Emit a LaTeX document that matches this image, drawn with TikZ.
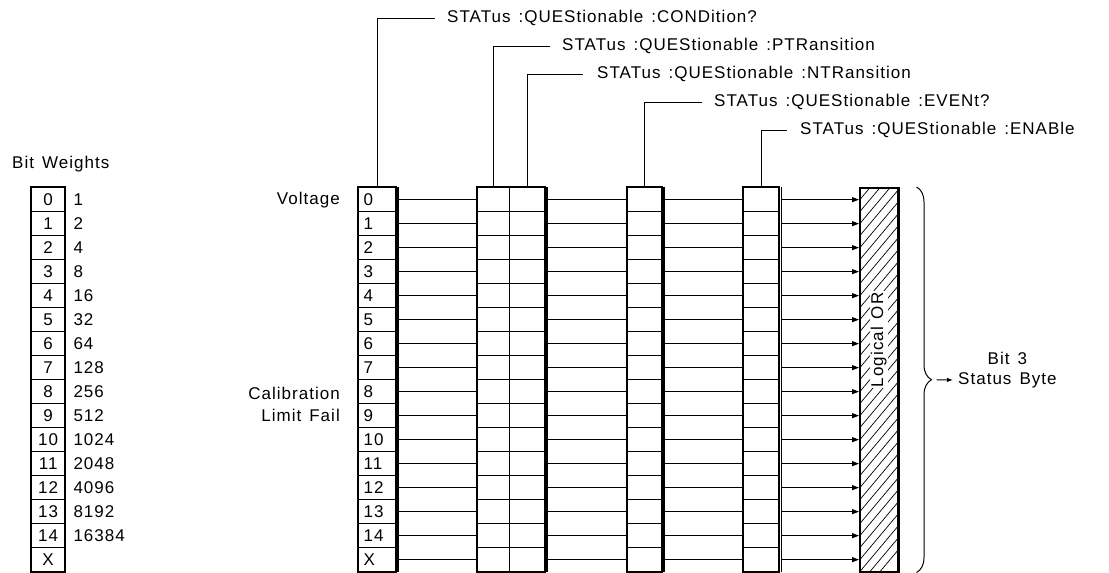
\documentclass[tikz,border=0pt]{standalone}
\usepackage{fontspec}
\setmainfont{Liberation Sans}[LetterSpace=6,WordSpace=1.4]
\usepackage{tikz}
\usetikzlibrary{positioning,arrows.meta,calc,decorations.pathreplacing}
\tikzset{
  cell/.style={draw, line width=1.3pt, minimum height=24pt, inner sep=0pt,
               anchor=north west, font=\fontsize{17}{18}\selectfont},
  wcell/.style={cell, minimum width=33pt},
  ccell/.style={cell, minimum width=37pt, text width=27pt, inner xsep=5pt, align=left},
  pcell/.style={cell, minimum width=32pt},
  ncell/.style={cell, minimum width=35pt},
  ecell/.style={cell, minimum width=34pt},
  encell/.style={cell, minimum width=35pt},
  lbl/.style={inner sep=0pt, font=\fontsize{17}{22}\selectfont},
  link/.style={line width=1pt},
  feed/.style={link, -{Triangle[length=7pt,width=5pt]}},
  lead/.style={line width=0.8pt},
  frame/.style={line width=1.8pt},
  rim/.style={line width=3pt},
  base/.style={line width=2.4pt},
  dblrim/.style={double, double distance=1.2pt, line width=0.9pt},
  orbox/.style={draw, line width=1.5pt, minimum width=38pt, minimum height=384pt,
                anchor=north west, inner sep=0pt,
                path picture={
                  \foreach \k in {0,...,34}
                    \draw[line width=0.7pt] ([yshift=-\k*12pt]path picture bounding box.north west) -- ++(50:60pt);
                }},
  gather/.style={decorate, decoration={brace, amplitude=15pt}, line width=1pt}
}

\begin{document}
\begin{tikzpicture}[x=1pt,y=-1pt]
  \useasboundingbox (0,0) rectangle (1109,573);
  % registers, row by row
  \foreach \i/\t in {0/0,1/1,2/2,3/3,4/4,5/5,6/6,7/7,8/8,9/9,10/10,11/11,12/12,13/13,14/14,15/X} {
    \node[wcell] (w\i) at (31,187+24*\i) {\t};
    \node[ccell] (c\i) at (358,187+24*\i) {\t};
    \node[pcell] (p\i) at (477,187+24*\i) {};
    \node[ncell] (n\i) at (509,187+24*\i) {};
    \node[ecell] (e\i) at (627,187+24*\i) {};
    \node[encell] (en\i) at (743,187+24*\i) {};
  }
  \node[orbox] (orb) at (859,187) {};
  \foreach \i in {0,...,15} {
    \draw[link] (c\i.east) -- (p\i.west);
    \draw[link] (n\i.east) -- (e\i.west);
    \draw[link] (e\i.east) -- (en\i.west);
    \draw[feed] (en\i.east) -- (en\i.east -| orb.west);
  }
  % outlines and heavy edges
  \foreach \ra/\rb in {w/w,c/c,p/n,e/e,en/en} {
    \draw[frame] (\ra0.north west) rectangle (\rb15.south east);
    \draw[base] (\ra15.south west) -- (\rb15.south east);
  }
  \foreach \rg in {c,n,e}
    \draw[rim] ([xshift=1.5pt]\rg0.north east) -- ([xshift=1.5pt]\rg15.south east);
  \draw[dblrim] ([xshift=1.5pt]en0.north east) -- ([xshift=1.5pt]en15.south east);
  \draw[rim] (orb.north east) -- (orb.south east);
  \draw[base] (orb.south west) -- (orb.south east);
  \node[lbl, rotate=90, fill=white, inner sep=1pt] (lor) at ([yshift=40pt]orb.center) {Logical OR};

  % bit weights
  \node[lbl, anchor=south west] (bw) at ([xshift=-19pt,yshift=15pt]w0.north west) {Bit Weights};
  \foreach \i/\v in {0/1,1/2,2/4,3/8,4/16,5/32,6/64,7/128,8/256,9/512,10/1024,11/2048,12/4096,13/8192,14/16384}
    \node[lbl, right=8pt of w\i] (v\i) {\v};

  % bit names
  \node[lbl, left=18pt of c0] (volt) {Voltage};
  \node[lbl, align=right, left=18pt of c8.south west] (calib) {Calibration\\Limit Fail};

  % commands
  \node[lbl, anchor=west] (qcond) at (447,18) {STATus :QUEStionable :CONDition?};
  \node[lbl, anchor=west] (qptr) at (562,46) {STATus :QUEStionable :PTRansition};
  \node[lbl, anchor=west] (qntr) at (597,74) {STATus :QUEStionable :NTRansition};
  \node[lbl, anchor=west] (qevt) at (714,102) {STATus :QUEStionable :EVENt?};
  \node[lbl, anchor=west] (qena) at (800,130) {STATus :QUEStionable :ENABle};
  \draw[lead] (c0.north) |- ([xshift=-12pt]qcond.west);
  \draw[lead] (p0.north) |- ([xshift=-12pt]qptr.west);
  \draw[lead] (n0.north) |- ([xshift=-14pt]qntr.west);
  \draw[lead] (e0.north) |- ([xshift=-12pt]qevt.west);
  \draw[lead] (en0.north) |- ([xshift=-13pt]qena.west);

  % summary bit
  \draw[gather] ([xshift=18pt]orb.north east) -- ([xshift=18pt]orb.south east);
  \coordinate (bt) at ([xshift=38pt]orb.east);
  \node[lbl, anchor=west] (sb) at (958,380) {Status Byte};
  \node[lbl, above=7pt of sb] (b3) {Bit 3};
  \draw[link, -{Latex[length=6pt,width=4.5pt]}] (bt) -- ([xshift=-5pt]sb.west);
\end{tikzpicture}
\end{document}
